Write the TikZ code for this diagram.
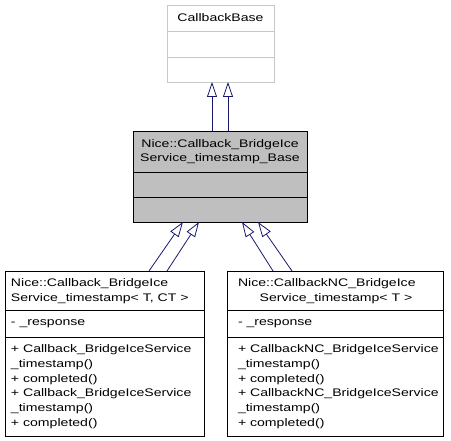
\documentclass[tikz,border=0pt]{standalone}
\usepackage{fontspec}
\setmainfont[FakeStretch=1.28]{Liberation Sans}
\usetikzlibrary{arrows.meta}
\definecolor{edgeblue}{HTML}{191970}
\definecolor{boxgray}{HTML}{BFBFBF}
\definecolor{lightborder}{HTML}{C8C8C8}
\begin{document}
\begin{tikzpicture}[x=1pt,y=-1pt,
  txt/.style={inner sep=0pt, outer sep=0pt, font=\fontsize{11}{14.66}\selectfont, text=black},
  umlbox/.style={draw=black, line width=0.8pt, inner sep=0pt, outer sep=0pt, anchor=north west},
  inh/.style={draw=edgeblue, line width=0.8pt, -{Triangle[open, length=15pt, width=10pt]}}]
\useasboundingbox[fill=white] (0,0) rectangle (451,441);
% boxes
\node[umlbox, draw=lightborder, minimum width=107pt, minimum height=77pt] (base) at (167,5) {};
\node[umlbox, fill=boxgray, minimum width=174pt, minimum height=91pt] (mid) at (133,131) {};
\node[umlbox, minimum width=199pt, minimum height=165pt] (lbox) at (5,271) {};
\node[umlbox, minimum width=216pt, minimum height=165pt] (rbox) at (227,271) {};
% dividers
\draw[lightborder, line width=0.8pt] (base.west |- 0,31) -- (base.east |- 0,31);
\draw[lightborder, line width=0.8pt] (base.west |- 0,57) -- (base.east |- 0,57);
\draw[line width=0.8pt] (mid.west |- 0,172) -- (mid.east |- 0,172);
\draw[line width=0.8pt] (mid.west |- 0,197) -- (mid.east |- 0,197);
\draw[line width=0.8pt] (lbox.west |- 0,310) -- (lbox.east |- 0,310);
\draw[line width=0.8pt] (lbox.west |- 0,337) -- (lbox.east |- 0,337);
\draw[line width=0.8pt] (rbox.west |- 0,310) -- (rbox.east |- 0,310);
\draw[line width=0.8pt] (rbox.west |- 0,337) -- (rbox.east |- 0,337);
% texts
\node[txt, anchor=base] (t0) at (220.5,21.5) {CallbackBase};
\node[txt, anchor=base] (t1) at (220,148) {Nice::Callback\_BridgeIce};
\node[txt, anchor=base] (t2) at (220,162) {Service\_timestamp\_Base};
\node[txt, anchor=base west] (l1) at (11,286.7) {Nice::Callback\_BridgeIce};
\node[txt, anchor=base west] (l2) at (11,302) {Service\_timestamp< T, CT >};
\node[txt, anchor=base west] (l3) at (11,326) {- \_response};
\node[txt, anchor=north west, align=left] (l4) at (11,344.8) {+ Callback\_BridgeIceService\\\_timestamp()\\+ completed()\\+ Callback\_BridgeIceService\\\_timestamp()\\+ completed()};
\node[txt, anchor=base west] (r1) at (238,286.7) {Nice::CallbackNC\_BridgeIce};
\node[txt, anchor=base] (r2) at (336,302) {Service\_timestamp< T >};
\node[txt, anchor=base west] (r3) at (238,326) {- \_response};
\node[txt, anchor=north west, align=left] (r4) at (238,344.8) {+ CallbackNC\_BridgeIceService\\\_timestamp()\\+ completed()\\+ CallbackNC\_BridgeIceService\\\_timestamp()\\+ completed()};
% inheritance arrows
\draw[inh] ([xshift=-8pt]mid.north) -- ([xshift=-8.5pt]base.south);
\draw[inh] ([xshift=8pt]mid.north) -- ([xshift=7.5pt]base.south);
\draw[inh] ([xshift=44.5pt]lbox.north) -- ([xshift=-37pt]mid.south);
\draw[inh] ([xshift=62.5pt]lbox.north) -- ([xshift=-21pt]mid.south);
\draw[inh] ([xshift=-62pt]rbox.north) -- ([xshift=22pt]mid.south);
\draw[inh] ([xshift=-43pt]rbox.north) -- ([xshift=38pt]mid.south);
\end{tikzpicture}
\end{document}
